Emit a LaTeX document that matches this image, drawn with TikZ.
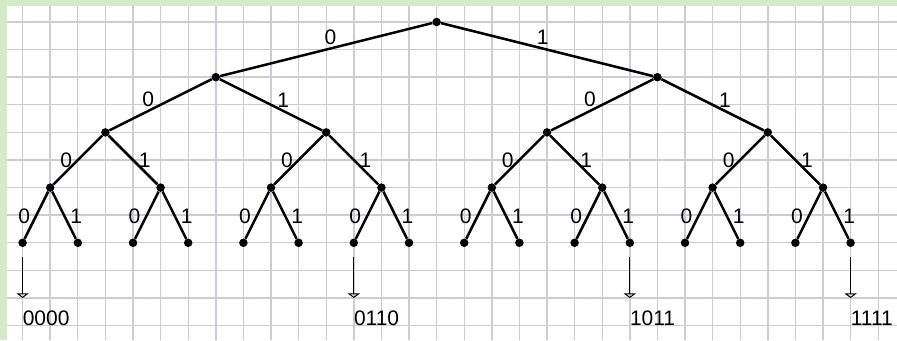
\documentclass[tikz,border=0pt]{standalone}
\usepackage{fontspec}
\setmainfont{Liberation Sans}
\usetikzlibrary{arrows.meta}
\definecolor{paneledge}{RGB}{212,235,200}
\definecolor{gridline}{RGB}{204,204,214}

\begin{document}
\begin{tikzpicture}[
  x=27.6pt, y=-27.6pt,
  font=\fontsize{21}{24}\selectfont,
  dot/.style={circle, fill, inner sep=0pt, minimum size=8.5pt},
  branch/.style={line width=2.5pt},
  bitup/.style={above, inner sep=2.5pt},
  bitl/.style={left, inner sep=4.5pt},
  bitr/.style={right, inner sep=4.5pt},
  ptr/.style={-{Triangle[open, length=4.5pt, width=12pt]}, line width=1pt, shorten <=10pt},
  word/.style={anchor=base west, inner sep=0pt}
]
\useasboundingbox (-0.8188,-0.797) rectangle (31.681,11.522);
\fill[paneledge] (-0.8188,-0.797) rectangle (31.681,11.522);
\fill[white] (-0.5652,-0.5797) rectangle (31.681,11.522);

% grid paper
\foreach \k in {0,...,31}
  \draw[gridline, line width=1.4pt] (\k,-0.5797) -- (\k,11.522);
\foreach \k in {0,...,11}
  \draw[gridline, line width=1.4pt] (-0.5652,\k) -- (31.681,\k);

% tree nodes, one row per level
\node[dot] (n0-0) at (15,0) {};
\foreach \i in {0,1} \node[dot] (n1-\i) at ({16*\i+7},2) {};
\foreach \i in {0,...,3} \node[dot] (n2-\i) at ({8*\i+3},4) {};
\foreach \i in {0,...,7} \node[dot] (n3-\i) at ({4*\i+1},6) {};
\foreach \i in {0,...,15} \node[dot] (n4-\i) at ({2*\i},8) {};

% branches
\draw[branch] (n0-0) -- node[bitup, pos=.48] {0} (n1-0);
\draw[branch] (n0-0) -- node[bitup, pos=.48] {1} (n1-1);
\foreach \i [evaluate=\i as \a using int(2*\i), evaluate=\i as \b using int(2*\i+1)] in {0,1} {
  \draw[branch] (n1-\i) -- node[bitup, pos=.62] {0} (n2-\a);
  \draw[branch] (n1-\i) -- node[bitup, pos=.62] {1} (n2-\b);
}
\foreach \i [evaluate=\i as \a using int(2*\i), evaluate=\i as \b using int(2*\i+1)] in {0,...,3} {
  \draw[branch] (n2-\i) -- node[bitl, pos=.5] {0} (n3-\a);
  \draw[branch] (n2-\i) -- node[bitr, pos=.5] {1} (n3-\b);
}
\foreach \i [evaluate=\i as \a using int(2*\i), evaluate=\i as \b using int(2*\i+1)] in {0,...,7} {
  \draw[branch] (n3-\i) -- node[bitl, pos=.53] {0} (n4-\a);
  \draw[branch] (n3-\i) -- node[bitr, pos=.53] {1} (n4-\b);
}

% picked leaves
\foreach \i/\w in {0/0000, 6/0110, 11/1011, 15/1111} {
  \coordinate (t\i) at ({2*\i},10);
  \draw[ptr] (n4-\i) -- (t\i);
  \node[word] (w\w) at ({2*\i},10.98) {\w};
}
\end{tikzpicture}
\end{document}
